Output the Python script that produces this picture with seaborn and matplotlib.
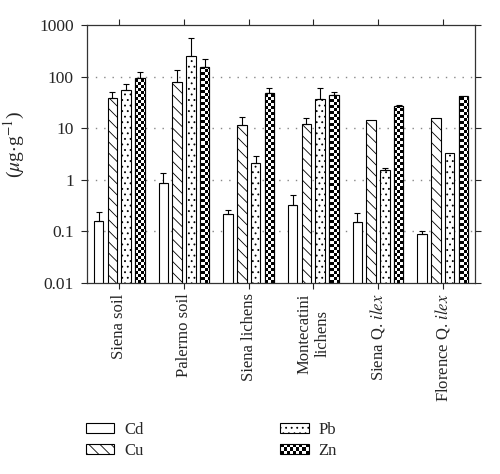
import numpy as np
import pandas as pd
import matplotlib
matplotlib.use("Agg")
import matplotlib.pyplot as plt
import seaborn as sns
from matplotlib.patches import Patch, Rectangle
from matplotlib.image import AxesImage
from matplotlib.legend_handler import HandlerPatch
from matplotlib.colors import ListedColormap

# ---------------- data ----------------
sites = ["Siena soil", "Palermo soil", "Siena lichens", "Montecatini\nlichens",
         "Siena Q. $\\mathit{ilex}$", "Florence Q. $\\mathit{ilex}$"]
metals = ["Cd", "Cu", "Pb", "Zn"]
cd = [0.16, 0.85, 0.22, 0.33, 0.15, 0.090]
cu = [39.0, 78.0, 11.6, 11.8, 14.4, 15.7]
pb = [55.0, 256.0, 2.14, 36.0, 1.52, 3.38]
zn = [92.0, 155.0, 48.0, 44.0, 27.0, 42.0]
cd_err = [0.083, 0.52, 0.036, 0.18, 0.073, 0.010]
cu_err = [12.0, 55.0, 5.0, 3.9, 0.0, 0.0]
pb_err = [17.0, 310.0, 0.78, 25.0, 0.16, 0.0]
zn_err = [32.0, 69.0, 11.0, 6.3, 1.6, 0.0]
y_ticks = [0.01, 0.1, 1, 10, 100, 1000]
y_tick_labels = ["0.01", "0.1", "1", "10", "100", "1000"]

values = {"Cd": cd, "Cu": cu, "Pb": pb, "Zn": zn}
errors = {"Cd": cd_err, "Cu": cu_err, "Pb": pb_err, "Zn": zn_err}
df = pd.DataFrame([(s, m, values[m][i]) for m in metals for i, s in enumerate(sites)],
                  columns=["site", "metal", "value"])

# ---------------- style ----------------
sns.set_style("ticks")
plt.rcParams["font.family"] = ["Liberation Serif", "DejaVu Serif"]
plt.rcParams["mathtext.fontset"] = "stix"
plt.rcParams["hatch.linewidth"] = 0.6
plt.rcParams["hatch.color"] = "black"

fig = plt.figure(figsize=(5.0, 4.74), dpi=100)
ax = fig.add_axes([87 / 500, 1 - 283 / 474, 388 / 500, 258 / 474])
ax.set_yscale("log")

pal = {m: "white" for m in metals}
sns.barplot(data=df, x="site", y="value", hue="metal", hue_order=metals,
            order=sites, palette=pal, errorbar=None, width=0.85, gap=0.31,
            edgecolor="black", linewidth=0.8, legend=False, ax=ax, zorder=2)

ax.set_ylim(0.01, 1000)
ax.set_xlim(-0.5, len(sites) - 0.5)

hatches = {"Cd": "", "Cu": "\\\\\\", "Pb": "...", "Zn": ""}

# checkerboard image for Zn bars (pixel-space cells)
cell = 3
ncols = int(388 / cell)
nrows = int(258 / cell)
yy, xx = np.mgrid[0:nrows, 0:ncols]
checker = ((xx + yy) % 2).astype(float)
cmap = ListedColormap(["white", "black"])

for m, cont in zip(metals, ax.containers):
    for i, bar in enumerate(cont.patches):
        bar.set_hatch(hatches[m])
        bar.set_edgecolor("black")
        bar.set_facecolor("white")
        cx = bar.get_x() + bar.get_width() / 2
        top = bar.get_height()
        err = errors[m][i]
        if err > 0:
            ax.errorbar([cx], [top], yerr=[[0], [err]], fmt="none", ecolor="black",
                        elinewidth=0.8, capsize=2.2, capthick=0.8, zorder=3)
        if m == "Zn":
            im = AxesImage(ax, cmap=cmap, interpolation="nearest",
                           extent=(0, 1, 0, 1), origin="lower")
            im.set_transform(ax.transAxes)
            im.set_data(checker)
            im.set_clim(0, 1)
            im.set_zorder(2.5)
            im.set_clip_path(bar)
            ax.add_image(im)
            edge = Rectangle((bar.get_x(), 1e-5), bar.get_width(), top - 1e-5,
                             fill=False, edgecolor="black", linewidth=0.8, zorder=2.6)
            ax.add_patch(edge)

ax.set_ylim(0.01, 1000)
ax.set_xlim(-0.5, len(sites) - 0.5)

# grid
for t in [0.1, 1, 10, 100]:
    ax.axhline(t, color="#888888", linestyle=(0, (1, 5)), linewidth=1.0, zorder=0)

# axes
ax.set_yticks(y_ticks)
ax.set_yticklabels(y_tick_labels)
ax.yaxis.set_minor_locator(matplotlib.ticker.NullLocator())
ax.set_xlabel("")
ax.set_ylabel(r"($\mu$g$\cdot$g$^{-1}$)", fontsize=14)
ax.yaxis.set_label_coords(-0.155, 0.535)
ax.tick_params(axis="y", which="major", direction="out", length=4.5, width=0.8,
               labelsize=12.5, pad=5, right=True, left=True)
ax.tick_params(axis="x", which="major", direction="out", length=4.5, width=0.8,
               labelsize=12, pad=3, top=True, bottom=True)
ax.set_xticks(range(len(sites)))
ax.set_xticklabels(sites, rotation=90, ha="center", va="top")
for sp in ax.spines.values():
    sp.set_visible(True)
    sp.set_linewidth(0.9)
    sp.set_color("#333333")


# legend
class CheckerHandler(HandlerPatch):
    def create_artists(self, legend, orig_handle, xdescent, ydescent,
                       width, height, fontsize, trans):
        arts = []
        n_x, n_y = 9, 3
        cw, ch = width / n_x, height / n_y
        for ix in range(n_x):
            for iy in range(n_y):
                if (ix + iy) % 2 == 0:
                    r = Rectangle((-xdescent + ix * cw, -ydescent + iy * ch), cw, ch,
                                  facecolor="black", edgecolor="none", transform=trans)
                    arts.append(r)
        frame = Rectangle((-xdescent, -ydescent), width, height, facecolor="none",
                          edgecolor="black", linewidth=0.8, transform=trans)
        arts.append(frame)
        return arts


handles = [Patch(facecolor="white", edgecolor="black", linewidth=0.8, hatch=hatches[m],
                 label=m) for m in metals]
fig.legend(handles=handles, labels=metals, ncol=2, loc="upper left",
           bbox_to_anchor=(86 / 500, 1 - 422 / 474), frameon=False, fontsize=12,
           handlelength=1.7, handleheight=0.6, handletextpad=0.6,
           columnspacing=8.2, labelspacing=0.3, borderpad=0, borderaxespad=0,
           handler_map={handles[3]: CheckerHandler()})

fig.savefig("out.png", dpi=100)
